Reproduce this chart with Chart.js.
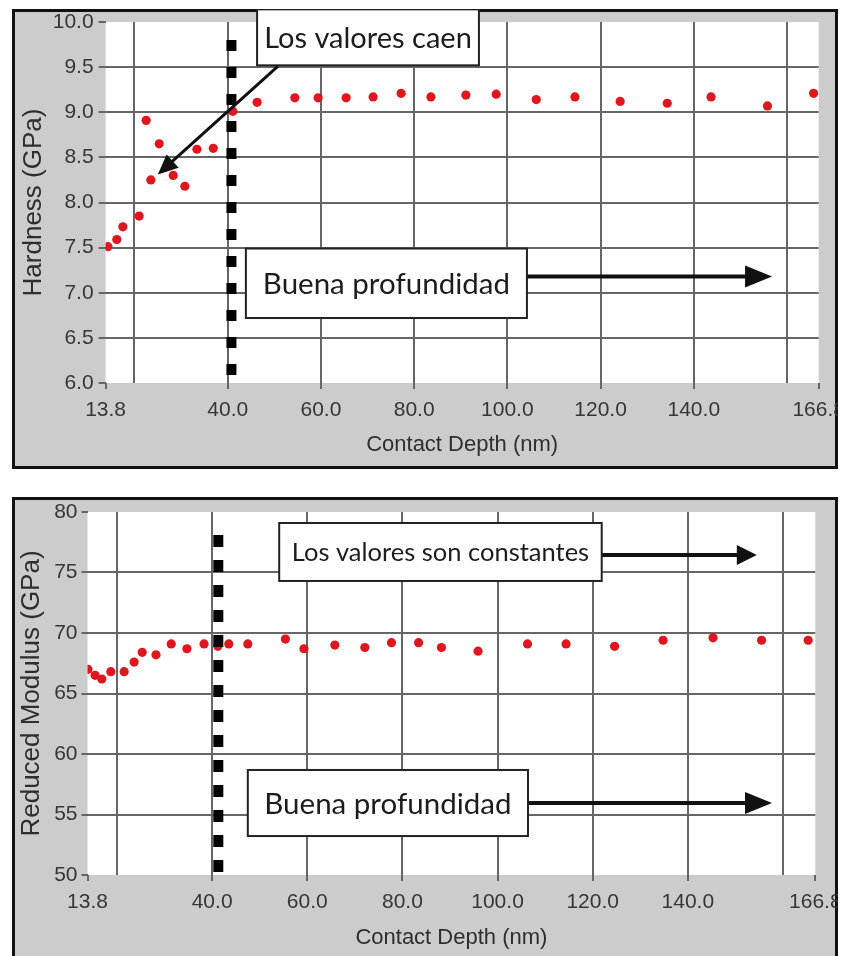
<!DOCTYPE html>
<html>
<head>
<meta charset="utf-8">
<script src="https://cdn.jsdelivr.net/npm/chart.js@4.4.0/dist/chart.umd.min.js"></script>
<style>
  html, body { margin: 0; padding: 0; background: #fff; width: 844px; height: 956px; overflow: hidden; }
  canvas { position: absolute; left: 12px; }
  #hardness { top: 9px; }
  #modulus { top: 497px; }
</style>
</head>
<body>
<canvas id="hardness" width="826" height="460"></canvas>
<canvas id="modulus" width="826" height="462"></canvas>
<script>
// Nanoindentation results against contact depth (nm)
const hardnessDepth = [14.3, 16.2, 17.5, 21.0, 22.5, 23.5, 25.3, 28.3, 30.8, 33.4, 36.9, 41.1,
  46.3, 54.4, 59.4, 65.4, 71.2, 77.2, 83.6, 91.1, 97.6, 106.2, 114.5, 124.2, 134.3, 143.7, 155.8, 165.7];
const hardnessValues = [7.51, 7.59, 7.73, 7.85, 8.91, 8.25, 8.65, 8.30, 8.18, 8.59, 8.60, 9.01,
  9.11, 9.16, 9.16, 9.16, 9.17, 9.21, 9.17, 9.19, 9.20, 9.14, 9.17, 9.12, 9.10, 9.17, 9.07, 9.21];

const modulusDepth = [13.9, 15.4, 16.8, 18.7, 21.5, 23.6, 25.3, 28.2, 31.4, 34.7, 38.3, 41.2, 43.5,
  47.5, 55.4, 59.3, 65.8, 72.1, 77.7, 83.4, 88.2, 95.9, 106.3, 114.4, 124.6, 134.8, 145.3, 155.5, 165.3];
const modulusValues = [67.0, 66.5, 66.2, 66.8, 66.8, 67.6, 68.4, 68.2, 69.1, 68.7, 69.1, 68.9, 69.1,
  69.1, 69.5, 68.7, 69.0, 68.8, 69.2, 69.2, 68.8, 68.5, 69.1, 69.1, 68.9, 69.4, 69.6, 69.4, 69.4];

// Axis ticks
const depthTicks = [13.8, 20, 40, 60, 80, 100, 120, 140, 160, 166.8];
const depthTickLabels = ['13.8', '', '40.0', '60.0', '80.0', '100.0', '120.0', '140.0', '', '166.8'];
const hardnessTickLabels = ['6.0', '6.5', '7.0', '7.5', '8.0', '8.5', '9.0', '9.5', '10.0'];
const modulusTickLabels = ['50', '55', '60', '65', '70', '75', '80'];

// Minimum valid depth marker (x, from y, to y)
const hardnessCutoff = [40.8, 6.0, 9.8];
const modulusCutoff = [41.3, 50, 78.1];

const hardnessNotes = [
  { text: 'Los valores caen', box: [46.3, 93.9, 10.14, 9.52], size: 29 },
  { text: 'Buena profundidad', box: [43.9, 104.2, 7.49, 6.72], size: 29.5 }
];
const hardnessArrows = [
  { from: [50.8, 9.51], to: [25.0, 8.31], width: 3, head: [20, 9] },
  { from: [104.2, 7.18], to: [156.8, 7.18], width: 4, head: [27, 11] }
];
const modulusNotes = [
  { text: 'Los valores son constantes', box: [54.1, 121.9, 79.09, 74.3], size: 25.5 },
  { text: 'Buena profundidad', box: [47.5, 106.4, 58.68, 53.22], size: 29.5 }
];
const modulusArrows = [
  { from: [121.9, 76.45], to: [154.5, 76.45], width: 4, head: [20, 10] },
  { from: [106.4, 55.95], to: [157.7, 55.95], width: 4, head: [27, 11] }
];

const GRID = '#666666';
const TICK_TEXT = '#363636';
const PANEL = '#cccccc';
const DOT = '#e0161e';

const panelPlugin = {
  id: 'panel',
  beforeDraw(chart) {
    const { ctx, width, height, chartArea: a } = chart;
    ctx.save();
    ctx.fillStyle = PANEL;
    ctx.fillRect(0, 0, width, height);
    ctx.fillStyle = '#ffffff';
    ctx.fillRect(a.left, a.top, a.right - a.left, a.bottom - a.top);
    ctx.strokeStyle = '#111';
    ctx.lineWidth = 3;
    ctx.strokeRect(1.5, 1.5, width - 3, height - 3);
    ctx.restore();
  },
  afterDraw(chart, args, opts) {
    const { ctx } = chart;
    const xs = chart.scales.x, ys = chart.scales.y;
    ctx.save();
    (opts.arrows || []).forEach(ar => {
      const x0 = xs.getPixelForValue(ar.from[0]), y0 = ys.getPixelForValue(ar.from[1]);
      const x1 = xs.getPixelForValue(ar.to[0]), y1 = ys.getPixelForValue(ar.to[1]);
      const ang = Math.atan2(y1 - y0, x1 - x0);
      const [len, half] = ar.head;
      const bx = x1 - Math.cos(ang) * len, by = y1 - Math.sin(ang) * len;
      ctx.strokeStyle = '#111';
      ctx.fillStyle = '#111';
      ctx.lineWidth = ar.width;
      ctx.beginPath();
      ctx.moveTo(x0, y0);
      ctx.lineTo(bx + Math.cos(ang) * 2, by + Math.sin(ang) * 2);
      ctx.stroke();
      ctx.beginPath();
      ctx.moveTo(x1, y1);
      ctx.lineTo(bx + Math.sin(ang) * half, by - Math.cos(ang) * half);
      ctx.lineTo(bx - Math.sin(ang) * half, by + Math.cos(ang) * half);
      ctx.closePath();
      ctx.fill();
    });
    (opts.notes || []).forEach(n => {
      const l = xs.getPixelForValue(n.box[0]), r = xs.getPixelForValue(n.box[1]);
      const t = ys.getPixelForValue(n.box[2]), b = ys.getPixelForValue(n.box[3]);
      ctx.fillStyle = '#ffffff';
      ctx.fillRect(l, t, r - l, b - t);
      ctx.strokeStyle = '#222';
      ctx.lineWidth = 2;
      ctx.strokeRect(l, t, r - l, b - t);
      ctx.fillStyle = '#1c1c1c';
      ctx.font = (n.size || 25) + 'px Lato, "Open Sans", sans-serif';
      ctx.textAlign = 'center';
      ctx.textBaseline = 'middle';
      ctx.fillText(n.text, (l + r) / 2, (t + b) / 2 + 1);
    });
    ctx.restore();
  }
};

function depthAxis(axisHeight, titlePad) {
  return {
    type: 'linear',
    min: 13.8,
    max: 166.8,
    afterBuildTicks: s => { s.ticks = depthTicks.map(v => ({ value: v })); },
    afterFit: s => { s.height = axisHeight; s.paddingLeft = 0; s.paddingRight = 0; },
    border: { display: false },
    grid: {
      lineWidth: 2,
      color: c => (c.tick && (c.tick.value === 13.8 || c.tick.value === 166.8)) ? 'rgba(0,0,0,0)' : GRID,
      tickColor: c => (c.tick && (c.tick.value === 20 || c.tick.value === 160)) ? 'rgba(0,0,0,0)' : GRID,
      tickLength: 6,
      drawTicks: true
    },
    ticks: {
      autoSkip: false, maxRotation: 0, minRotation: 0, padding: 9,
      color: TICK_TEXT,
      font: { family: '"Liberation Sans", Arial, sans-serif', size: 21 },
      callback: (v, i) => depthTickLabels[i]
    },
    title: {
      display: true, text: 'Contact Depth (nm)', color: '#2e2e2e',
      font: { family: '"Liberation Sans", Arial, sans-serif', size: 22 },
      padding: { top: 0, bottom: titlePad }
    }
  };
}

function valueAxis(min, max, step, labels, title, axisWidth, tickLen, tickPad, titlePad) {
  return {
    type: 'linear',
    min: min, max: max,
    afterFit: s => { s.width = axisWidth; s.paddingTop = 0; s.paddingBottom = 0; },
    border: { display: false },
    grid: {
      lineWidth: 2,
      color: c => (c.tick && (c.tick.value === min || c.tick.value === max)) ? 'rgba(0,0,0,0)' : GRID,
      tickColor: GRID,
      tickLength: tickLen
    },
    ticks: {
      stepSize: step, padding: tickPad, color: TICK_TEXT,
      font: { family: '"Liberation Sans", Arial, sans-serif', size: 21 },
      callback: (v, i) => labels[i]
    },
    title: {
      display: true, text: title, color: '#2e2e2e',
      font: { family: '"Liberation Sans", Arial, sans-serif', size: 26 },
      padding: { top: titlePad, bottom: 0 }
    }
  };
}

function makeChart(id, depth, values, cutoff, dash, notes, arrows, yAxis, xAxis, pad) {
  const points = depth.map((d, i) => ({ x: d, y: values[i] }));
  return new Chart(document.getElementById(id), {
    type: 'scatter',
    data: {
      datasets: [
        {
          type: 'line',
          data: [{ x: cutoff[0], y: cutoff[2] }, { x: cutoff[0], y: cutoff[1] }],
          borderColor: '#000', borderWidth: 10, borderDash: dash, borderCapStyle: 'butt',
          pointRadius: 0, fill: false, order: 0
        },
        {
          data: points, backgroundColor: DOT, borderWidth: 0,
          pointRadius: 4.6, order: 1
        }
      ]
    },
    options: {
      responsive: false,
      animation: false,
      layout: { padding: pad },
      plugins: {
        legend: { display: false },
        tooltip: { enabled: false },
        panel: { notes: notes, arrows: arrows }
      },
      scales: { x: xAxis, y: yAxis }
    },
    plugins: [panelPlugin]
  });
}

function build() {
  makeChart('hardness', hardnessDepth, hardnessValues, hardnessCutoff, [11, 16],
    hardnessNotes, hardnessArrows,
    valueAxis(6, 10, 0.5, hardnessTickLabels, 'Hardness (GPa)', 93.6, 7, 5, 6),
    depthAxis(86, 11),
    { top: 13, right: 19.3, left: 0, bottom: 0 });
  makeChart('modulus', modulusDepth, modulusValues, modulusCutoff, [12, 13],
    modulusNotes, modulusArrows,
    valueAxis(50, 80, 5, modulusTickLabels, 'Reduced Modulus (GPa)', 75.5, 6, 4, 4),
    depthAxis(84, 8),
    { top: 15, right: 22.7, left: 0, bottom: 0 });
}

if (document.fonts && document.fonts.load) {
  Promise.all([document.fonts.load('25px Lato'), document.fonts.load('21px "Liberation Sans"')])
    .then(build, build);
} else {
  build();
}
</script>
</body>
</html>
